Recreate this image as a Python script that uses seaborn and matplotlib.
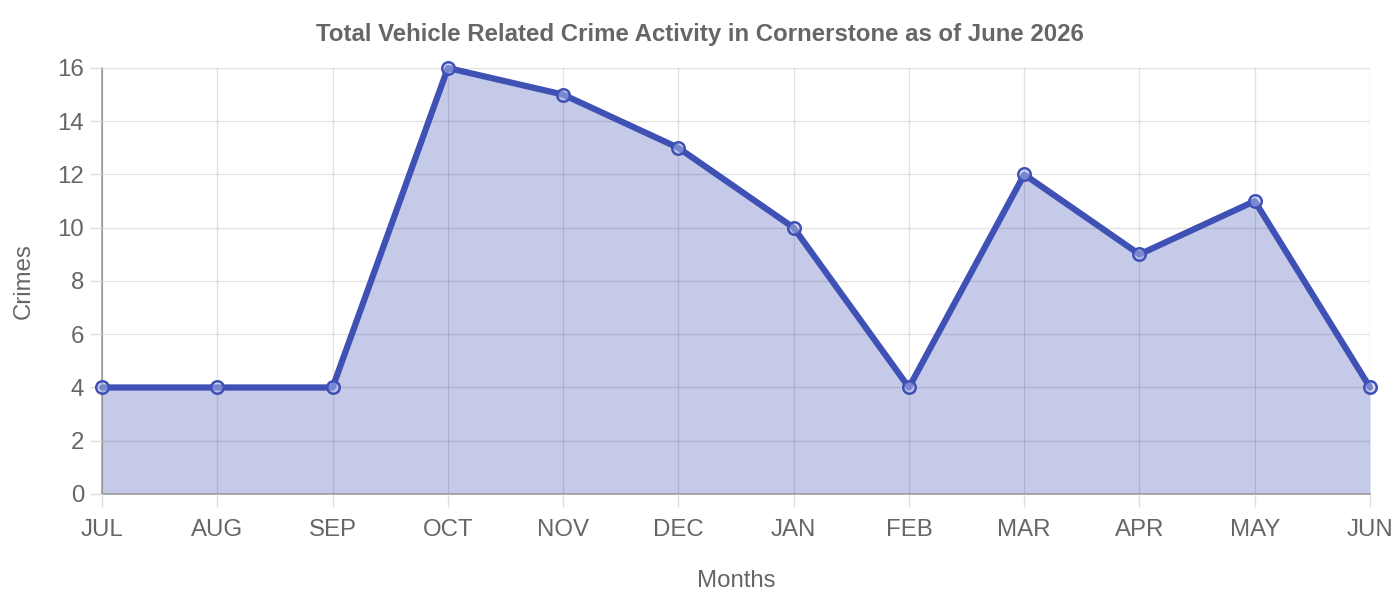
import matplotlib
matplotlib.use("Agg")
import matplotlib.pyplot as plt
import seaborn as sns
import pandas as pd

months = ["JUL", "AUG", "SEP", "OCT", "NOV", "DEC", "JAN", "FEB", "MAR", "APR", "MAY", "JUN"]
crimes = [4, 4, 4, 16, 15, 13, 10, 4, 12, 9, 11, 4]

df = pd.DataFrame({"month": months, "crimes": crimes})
df["pos"] = range(len(df))

sns.set_theme(style="whitegrid")
plt.rcParams["font.family"] = ["Liberation Sans", "DejaVu Sans"]

line_col = "#3f51b5"
grey = "#666666"

fig = plt.figure(figsize=(14, 6), dpi=100)
ax = fig.add_axes([0.0729, 0.1767, 0.9057, 0.71])

ax.fill_between(df["pos"], df["crimes"], 0, color=line_col, alpha=0.3, linewidth=0, zorder=1)
sns.lineplot(data=df, x="pos", y="crimes", ax=ax, color=line_col, linewidth=4.5,
             marker="o", markersize=9, markerfacecolor=(0.70, 0.74, 0.92, 0.5),
             markeredgecolor=line_col, markeredgewidth=1.8, zorder=4)

ax.set_xlim(0, len(months) - 1)
ax.set_ylim(0, 16)
ax.set_xticks(df["pos"])
ax.set_xticklabels(months)
ax.set_yticks(range(0, 17, 2))

ax.set_axisbelow(False)
ax.grid(True, color="black", alpha=0.11, linewidth=1, zorder=2)
for side in ["top", "right"]:
    ax.spines[side].set_visible(False)
for side in ["left", "bottom"]:
    ax.spines[side].set_color("#a0a0a0")
    ax.spines[side].set_linewidth(1.2)

ax.tick_params(axis="both", which="both", length=9, width=1, color="#dedede",
               labelcolor=grey, labelsize=17.3, left=True, bottom=True)
ax.tick_params(axis="x", pad=9)
ax.tick_params(axis="y", pad=4)

ax.set_xlabel("Months", fontsize=17.3, color=grey, labelpad=21)
ax.set_ylabel("Crimes", fontsize=17.3, color=grey, labelpad=16)
fig.suptitle("Total Vehicle Related Crime Activity in Cornerstone as of June 2026",
             x=0.5, y=1 - 34 / 600, va="center",
             fontsize=17.3, fontweight="bold", color=grey)

for line in ax.lines:
    line.set_clip_on(False)

fig.savefig("out.png", dpi=100)
